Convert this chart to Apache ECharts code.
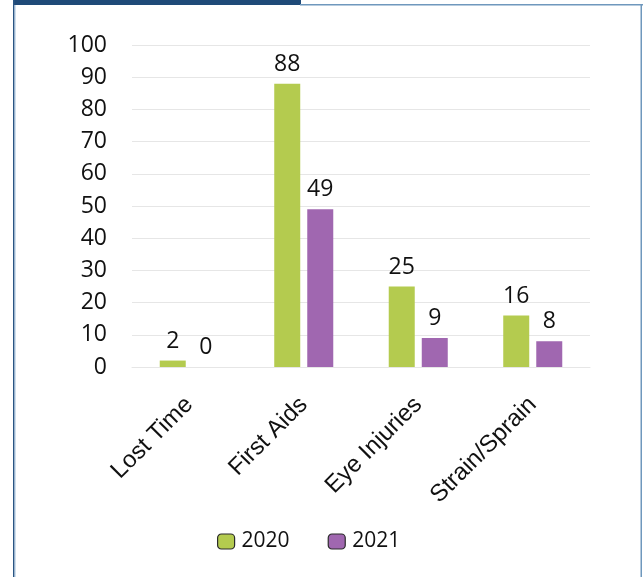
<!DOCTYPE html>
<html>
<head>
<meta charset="utf-8">
<style>
  html, body { margin: 0; padding: 0; background: #fff; }
  #chart { width: 643px; height: 577px; }
</style>
<script src="https://cdn.jsdelivr.net/npm/echarts@6/dist/echarts.min.js"></script>
</head>
<body>
<div id="chart"></div>
<script>
"use strict";

var categories = ['Lost Time', 'First Aids', 'Eye Injuries', 'Strain/Sprain'];
var seriesNames = ['2020', '2021'];
var values2020 = [2, 88, 25, 16];
var values2021 = [0, 49, 9, 8];
var yTicks = { min: 0, max: 100, interval: 10 };

var colors = ['#b4cb4f', '#a067b0'];
var gridColor = '#e6e6e6';

var myChart = echarts.init(document.getElementById('chart'), null, { renderer: 'canvas' });

var valueLabel = {
  show: true,
  position: 'top',
  distance: 8,
  fontFamily: 'Open Sans',
  fontSize: 23,
  color: '#111'
};

var option = {
  animation: false,
  backgroundColor: '#fff',
  // page frame
  graphic: [
    { type: 'rect', shape: { x: 13, y: 0, width: 288, height: 5 }, style: { fill: '#1f4a78' } },
    { type: 'rect', shape: { x: 300, y: 4, width: 343, height: 1.5 }, style: { fill: '#6f98bd' } },
    { type: 'rect', shape: { x: 13, y: 0, width: 1.6, height: 577 }, style: { fill: '#2a5583' } },
    { type: 'rect', shape: { x: 14.6, y: 5, width: 1.2, height: 572 }, style: { fill: '#c4d8ea' } },
    { type: 'rect', shape: { x: 640.5, y: 4, width: 1.5, height: 573 }, style: { fill: '#6f98bd' } }
  ],
  grid: { left: 132, right: 53, top: 45, bottom: 210 },
  legend: {
    data: seriesNames,
    left: 217,
    top: 531,
    padding: 0,
    itemWidth: 17,
    itemHeight: 15,
    itemGap: 38,
    itemStyle: { borderColor: '#2b2b2b', borderWidth: 1.2 },
    textStyle: { fontFamily: 'Open Sans', fontSize: 21, color: '#111', padding: [0, 0, 0, 2] }
  },
  xAxis: {
    type: 'category',
    data: categories,
    axisLine: { show: true, lineStyle: { color: gridColor, width: 1 } },
    axisTick: { show: false },
    axisLabel: {
      rotate: 45,
      margin: 34,
      fontFamily: 'Liberation Sans',
      fontSize: 24,
      color: '#111'
    }
  },
  yAxis: {
    type: 'value',
    min: yTicks.min,
    max: yTicks.max,
    interval: yTicks.interval,
    axisLine: { show: false },
    axisTick: { show: false },
    splitLine: { lineStyle: { color: gridColor, width: 1 } },
    axisLabel: {
      margin: 25,
      fontFamily: 'Open Sans',
      fontSize: 23,
      color: '#111'
    }
  },
  series: [
    {
      name: seriesNames[0],
      type: 'bar',
      data: values2020,
      barWidth: 26,
      barGap: '27%',
      itemStyle: { color: colors[0] },
      label: valueLabel
    },
    {
      name: seriesNames[1],
      type: 'bar',
      data: values2021,
      barWidth: 26,
      itemStyle: { color: colors[1] },
      label: valueLabel
    }
  ]
};

myChart.setOption(option);
</script>
</body>
</html>
